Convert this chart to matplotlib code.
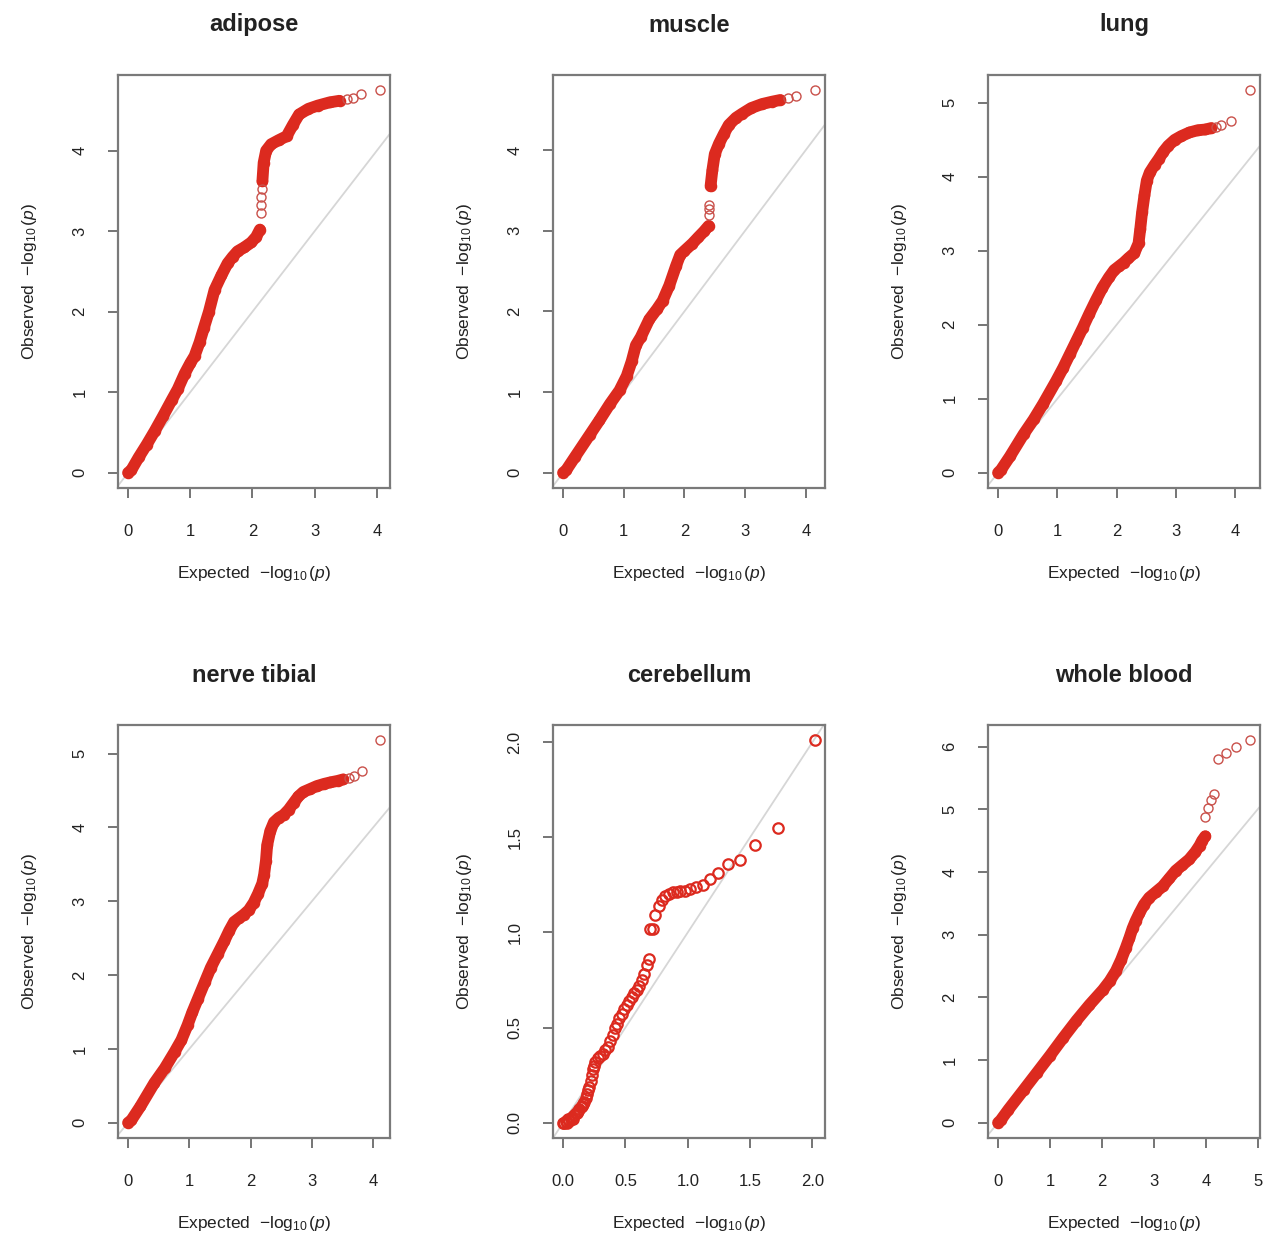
import numpy as np
import matplotlib
matplotlib.use("Agg")
import matplotlib.pyplot as plt

plt.rcParams['font.family'] = ['Liberation Sans', 'DejaVu Sans']
plt.rcParams['mathtext.fontset'] = 'custom'
plt.rcParams['mathtext.rm'] = 'Liberation Sans'
plt.rcParams['mathtext.it'] = 'Liberation Sans:italic'

nan = np.nan

# ---- data: dense band (x, y) + sparse tail points ----
adipose_x = [0.00, 0.05, 0.17, 0.30, 0.43, 0.56, 0.70, 0.80, 0.91, 1.00, 1.07, 1.15,
             1.22, 1.30, 1.39, 1.50, 1.60, 1.68, 1.76, 1.87, 1.98, 2.06, 2.12, nan,
             2.16, 2.18, 2.22, 2.30, 2.42, 2.55, 2.65, 2.75, 2.90, 3.05, 3.24, 3.40]
adipose_y = [0.00, 0.03, 0.19, 0.35, 0.52, 0.70, 0.90, 1.04, 1.23, 1.36, 1.45, 1.62,
             1.80, 2.00, 2.27, 2.45, 2.60, 2.68, 2.75, 2.80, 2.86, 2.93, 3.02, nan,
             3.62, 3.85, 4.00, 4.08, 4.13, 4.18, 4.32, 4.45, 4.52, 4.56, 4.60, 4.62]
adipose_tail_x = [2.13, 2.14, 2.14, 2.15, 3.52, 3.62, 3.75, 4.05]
adipose_tail_y = [3.22, 3.32, 3.42, 3.52, 4.64, 4.66, 4.70, 4.75]

muscle_x = [0.00, 0.05, 0.20, 0.44, 0.60, 0.77, 0.93, 1.05, 1.13, 1.20, 1.28, 1.42,
            1.55, 1.64, 1.75, 1.86, 1.93, 2.00, 2.13, 2.23, 2.32, 2.40, nan,
            2.43, 2.46, 2.50, 2.57, 2.65, 2.73, 2.85, 2.95, 3.10, 3.28, 3.45, 3.58]
muscle_y = [0.00, 0.03, 0.20, 0.47, 0.65, 0.85, 1.02, 1.20, 1.38, 1.58, 1.68, 1.90,
            2.03, 2.13, 2.32, 2.56, 2.70, 2.75, 2.84, 2.92, 2.99, 3.06, nan,
            3.55, 3.75, 3.95, 4.08, 4.20, 4.31, 4.40, 4.45, 4.52, 4.57, 4.60, 4.62]
muscle_tail_x = [2.40, 2.40, 2.41, 3.70, 3.83, 4.15]
muscle_tail_y = [3.20, 3.27, 3.32, 4.64, 4.67, 4.74]

lung_x = [0.00, 0.05, 0.20, 0.43, 0.60, 0.76, 0.98, 1.10, 1.21, 1.32, 1.43, 1.54,
          1.65, 1.76, 1.87, 1.96, 2.04, 2.12, 2.20, 2.30, 2.37, 2.40, 2.43, 2.47,
          2.51, 2.56, 2.64, 2.71, 2.79, 2.87, 2.98, 3.09, 3.23, 3.37, 3.50, 3.60]
lung_y = [0.00, 0.04, 0.22, 0.52, 0.72, 0.93, 1.24, 1.42, 1.60, 1.78, 1.96, 2.15,
          2.33, 2.50, 2.64, 2.74, 2.79, 2.84, 2.90, 2.97, 3.10, 3.30, 3.52, 3.75,
          3.95, 4.06, 4.16, 4.24, 4.34, 4.42, 4.50, 4.55, 4.60, 4.63, 4.64, 4.66]
lung_tail_x = [3.68, 3.76, 3.93, 4.25]
lung_tail_y = [4.68, 4.70, 4.76, 5.17]

nerve_x = [0.00, 0.05, 0.20, 0.43, 0.60, 0.76, 0.87, 0.97, 1.05, 1.14, 1.25, 1.35,
           1.46, 1.57, 1.65, 1.73, 1.81, 1.89, 1.97, 2.05, 2.12, 2.19, 2.22, 2.25,
           2.27, 2.32, 2.38, 2.46, 2.54, 2.62, 2.70, 2.78, 2.86, 2.97, 3.08, 3.20,
           3.30, 3.42, 3.51]
nerve_y = [0.00, 0.03, 0.22, 0.54, 0.74, 0.96, 1.12, 1.32, 1.50, 1.68, 1.90, 2.10,
           2.28, 2.46, 2.60, 2.72, 2.77, 2.82, 2.88, 2.98, 3.10, 3.24, 3.36, 3.55,
           3.76, 3.95, 4.07, 4.13, 4.17, 4.24, 4.33, 4.42, 4.48, 4.52, 4.56, 4.59,
           4.61, 4.63, 4.65]
nerve_tail_x = [3.60, 3.68, 3.81, 4.11]
nerve_tail_y = [4.67, 4.69, 4.77, 5.18]

cereb_x = [0.00, 0.01, 0.02, 0.03, 0.04, 0.05, 0.06, 0.07, 0.08, 0.09, 0.10, 0.11,
           0.12, 0.13, 0.14, 0.15, 0.16, 0.17, 0.18, 0.19, 0.20, 0.21, 0.22, 0.23,
           0.24, 0.25, 0.26, 0.28, 0.30, 0.32, 0.34, 0.36, 0.38, 0.40, 0.42, 0.43,
           0.45, 0.47, 0.49, 0.51, 0.53, 0.55, 0.57, 0.59, 0.61, 0.63, 0.65, 0.67,
           0.69, 0.70, 0.72, 0.74, 0.77, 0.79, 0.82, 0.85, 0.88, 0.91, 0.94, 0.98,
           1.02, 1.07, 1.12, 1.18, 1.24, 1.32, 1.42, 1.54, 1.72, 2.02]
cereb_y = [0.00, 0.00, 0.01, 0.00, 0.02, 0.01, 0.02, 0.03, 0.02, 0.04, 0.05, 0.05,
           0.06, 0.07, 0.08, 0.09, 0.10, 0.11, 0.13, 0.15, 0.17, 0.19, 0.22, 0.25,
           0.28, 0.30, 0.32, 0.34, 0.35, 0.36, 0.38, 0.40, 0.43, 0.46, 0.50, 0.52,
           0.55, 0.57, 0.60, 0.62, 0.64, 0.66, 0.68, 0.70, 0.72, 0.75, 0.78, 0.83,
           0.86, 1.02, 1.02, 1.09, 1.14, 1.17, 1.19, 1.20, 1.21, 1.21, 1.22, 1.22,
           1.23, 1.24, 1.25, 1.28, 1.31, 1.36, 1.38, 1.46, 1.55, 2.01]

blood_x = [0.00, 0.05, 0.20, 0.49, 0.75, 1.00, 1.25, 1.51, 1.76, 2.02, 2.15, 2.27,
           2.37, 2.46, 2.53, 2.59, 2.65, 2.72, 2.81, 2.91, 3.04, 3.17, 3.30, 3.42,
           3.55, 3.68, 3.80, 3.88, 3.93, 3.99]
blood_y = [0.00, 0.04, 0.21, 0.52, 0.80, 1.07, 1.35, 1.63, 1.88, 2.12, 2.26, 2.42,
           2.60, 2.79, 2.95, 3.10, 3.22, 3.34, 3.48, 3.59, 3.68, 3.77, 3.90, 4.02,
           4.11, 4.20, 4.32, 4.42, 4.50, 4.57]
blood_tail_x = [3.98, 4.04, 4.10, 4.16, 4.23, 4.38, 4.58, 4.85]
blood_tail_y = [4.88, 5.02, 5.15, 5.24, 5.80, 5.90, 6.00, 6.10]

titles = ["adipose", "muscle", "lung", "nerve tibial", "cerebellum", "whole blood"]

RED = "#dc2a1f"
RED_TAIL = "#c9504a"
GREY = "#6a6a6a"

W, H = 1266, 1241
fig = plt.figure(figsize=(W / 100, H / 100), dpi=100)


def panel(left, top, title, bx, by, tx, ty, xticks, yticks, fmt, dense=True):
    ax = fig.add_axes([left / W, 1 - (top + 413) / H, 272 / W, 413 / H])
    allx = [v for v in bx + tx if v == v]
    ally = [v for v in by + ty if v == v]
    x0, x1 = min(allx), max(allx)
    y0, y1 = min(ally), max(ally)
    ax.set_xlim(x0 - 0.04 * (x1 - x0), x1 + 0.04 * (x1 - x0))
    ax.set_ylim(y0 - 0.04 * (y1 - y0), y1 + 0.04 * (y1 - y0))

    ax.axline((0, 0), slope=1, color="#d6d6d6", lw=1.3, zorder=1)
    if dense:
        ax.plot(bx, by, color=RED, lw=8.5, solid_capstyle="round", zorder=2)
        ax.plot(bx, by, "o", mfc="none", mec=RED, ms=7, mew=1.3, zorder=3)
    else:
        ax.plot(bx, by, "o", mfc="none", mec=RED, ms=7.5, mew=1.6, zorder=3)
    if tx:
        ax.plot(tx, ty, "o", mfc="none", mec=RED_TAIL, ms=6.5, mew=1.0, zorder=3)

    ax.set_xticks(xticks)
    ax.set_yticks(yticks)
    ax.set_xticklabels([fmt.format(v) for v in xticks])
    ax.set_yticklabels([fmt.format(v) for v in yticks], rotation=90, va="center")
    ax.tick_params(axis="both", direction="out", length=7, width=1.3, color=GREY,
                   labelsize=12, labelcolor="#222222")
    ax.tick_params(axis="x", pad=19)
    ax.tick_params(axis="y", pad=15)
    for s in ax.spines.values():
        s.set_color("#7a7a7a")
        s.set_linewidth(1.6)

    ax.set_xlabel(r"Expected  $-\log_{10}(\mathit{p})$", fontsize=12.5, color="#222222")
    ax.set_ylabel(r"Observed  $-\log_{10}(\mathit{p})$", fontsize=12.5, color="#222222")
    ax.xaxis.set_label_coords(0.5, -0.185)
    ax.yaxis.set_label_coords(-0.29, 0.5)
    ax.text(0.5, 1 + 50 / 413, title, transform=ax.transAxes, ha="center", va="center",
            fontsize=17, fontweight="bold", color="#222222")
    return ax


int4 = [0, 1, 2, 3, 4]
panel(118, 75, titles[0], adipose_x, adipose_y, adipose_tail_x, adipose_tail_y,
      int4, int4, "{:d}")
panel(553, 75, titles[1], muscle_x, muscle_y, muscle_tail_x, muscle_tail_y,
      int4, int4, "{:d}")
panel(988, 75, titles[2], lung_x, lung_y, lung_tail_x, lung_tail_y,
      int4, [0, 1, 2, 3, 4, 5], "{:d}")
panel(118, 725, titles[3], nerve_x, nerve_y, nerve_tail_x, nerve_tail_y,
      int4, [0, 1, 2, 3, 4, 5], "{:d}")
half = [0.0, 0.5, 1.0, 1.5, 2.0]
panel(553, 725, titles[4], cereb_x, cereb_y, [], [], half, half, "{:.1f}", dense=False)
panel(988, 725, titles[5], blood_x, blood_y, blood_tail_x, blood_tail_y,
      [0, 1, 2, 3, 4, 5], [0, 1, 2, 3, 4, 5, 6], "{:d}")

fig.savefig("out.png", dpi=100, facecolor="white")
